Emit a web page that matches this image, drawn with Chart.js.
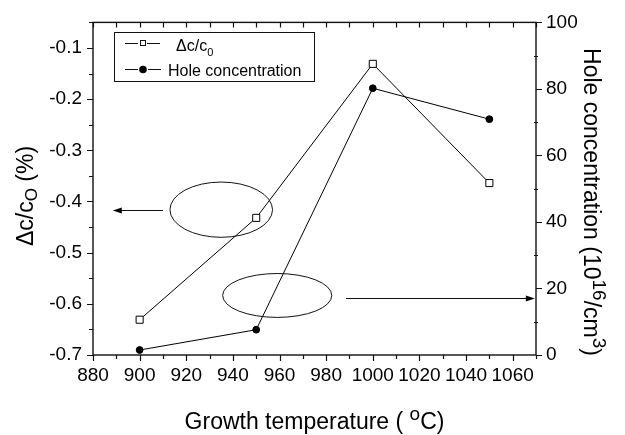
<!DOCTYPE html>
<html>
<head>
<meta charset="utf-8">
<script src="https://cdn.jsdelivr.net/npm/chart.js@4.4.0/dist/chart.umd.min.js"></script>
<style>
  html, body { margin: 0; background: #fff; }
  canvas { display: block; }
</style>
</head>
<body>
<canvas id="chart" width="625" height="435"></canvas>
<script>
// growth temperature (°C) and the two measured quantities
const temps = [900, 950, 1000, 1050];
const deltaC = [-0.631, -0.432, -0.131, -0.364];   // Δc/c0 (%)
const holeConc = [1.5, 7.6, 80.2, 70.9];           // 10^16 /cm^3

const xTicks = [880, 900, 920, 940, 960, 980, 1000, 1020, 1040, 1060];
const leftTicks = [-0.7, -0.6, -0.5, -0.4, -0.3, -0.2, -0.1];
const rightTicks = [0, 20, 40, 60, 80, 100];

const FONT = "'Liberation Sans', Arial, sans-serif";

// ellipses + arrows that point each curve to its axis (data units)
const marks = [
  { axis: "y", cx: 935, cy: -0.416, rx: 22, ry: 0.054, from: 910, to: 888.5, ay: -0.416 },
  { axis: "y1", cx: 959, cy: 17.9, rx: 23.4, ry: 6.6, from: 988.5, to: 1069.5, ay: 17 }
];

// minor ticks halfway between the labelled ones, inside the axis range
function minors(ticks, min, max) {
  const step = ticks[1] - ticks[0];
  const out = [];
  for (let v = ticks[0] - step / 2; v <= max + 1e-9; v += step) {
    if (v >= min - 1e-9) out.push(v);
  }
  return out;
}

// draws text made of pieces with their own size / vertical shift
function richText(ctx, parts, x, y) {
  let w = 0;
  parts.forEach(p => {
    ctx.font = p.s + "px " + FONT;
    p.w = ctx.measureText(p.t).width;
    w += p.w;
  });
  let cx = x - w / 2;
  ctx.textAlign = "left";
  ctx.textBaseline = "alphabetic";
  parts.forEach(p => {
    ctx.font = p.s + "px " + FONT;
    ctx.fillText(p.t, cx, y + (p.dy || 0));
    cx += p.w;
  });
}

const decor = {
  id: "decor",
  afterDraw(chart) {
    const { ctx, chartArea: a, scales } = chart;
    const sx = scales.x, sy = scales.y, sr = scales.y1;
    ctx.save();
    ctx.strokeStyle = "#111";
    ctx.fillStyle = "#000";

    // frame
    ctx.lineWidth = 1.4;
    ctx.strokeRect(a.left, a.top, a.right - a.left, a.bottom - a.top);

    // tick marks
    ctx.lineWidth = 1.2;
    ctx.beginPath();
    xTicks.forEach(v => {
      const px = Math.round(sx.getPixelForValue(v)) + 0.5;
      ctx.moveTo(px, a.bottom); ctx.lineTo(px, a.bottom + 6);
      ctx.moveTo(px, a.top); ctx.lineTo(px, a.top + 5);
    });
    minors(xTicks, 880, 1070).forEach(v => {
      const px = Math.round(sx.getPixelForValue(v)) + 0.5;
      ctx.moveTo(px, a.bottom); ctx.lineTo(px, a.bottom + 4);
      ctx.moveTo(px, a.top); ctx.lineTo(px, a.top + 5);
    });
    leftTicks.forEach(v => {
      const py = Math.round(sy.getPixelForValue(v)) + 0.5;
      ctx.moveTo(a.left - 6, py); ctx.lineTo(a.left, py);
    });
    minors(leftTicks, -0.7, -0.05).forEach(v => {
      const py = Math.round(sy.getPixelForValue(v)) + 0.5;
      ctx.moveTo(a.left - 4, py); ctx.lineTo(a.left, py);
    });
    rightTicks.forEach(v => {
      const py = Math.round(sr.getPixelForValue(v)) + 0.5;
      ctx.moveTo(a.right, py); ctx.lineTo(a.right + 6, py);
    });
    minors(rightTicks, 0, 100).forEach(v => {
      const py = Math.round(sr.getPixelForValue(v)) + 0.5;
      ctx.moveTo(a.right - 2, py); ctx.lineTo(a.right + 2, py);
    });
    ctx.stroke();

    // ellipses and arrows
    ctx.lineWidth = 1;
    marks.forEach(m => {
      const ys = scales[m.axis];
      const cx = sx.getPixelForValue(m.cx), cy = ys.getPixelForValue(m.cy);
      const rx = sx.getPixelForValue(m.cx + m.rx) - cx;
      const ry = cy - ys.getPixelForValue(m.cy + m.ry);
      ctx.beginPath();
      ctx.ellipse(cx, cy, rx, ry, 0, 0, Math.PI * 2);
      ctx.stroke();

      const x0 = sx.getPixelForValue(m.from), x1 = sx.getPixelForValue(m.to);
      const ay = Math.round(ys.getPixelForValue(m.ay)) + 0.5;
      const dir = Math.sign(x1 - x0);
      ctx.beginPath();
      ctx.moveTo(x0, ay); ctx.lineTo(x1 - dir * 6, ay);
      ctx.stroke();
      ctx.beginPath();
      ctx.moveTo(x1, ay);
      ctx.lineTo(x1 - dir * 9, ay - 3);
      ctx.lineTo(x1 - dir * 9, ay + 3);
      ctx.closePath();
      ctx.fill();
    });

    // legend box
    ctx.lineWidth = 1;
    ctx.strokeRect(114.5, 32.5, 200, 49);
    ctx.beginPath();
    ctx.moveTo(125, 43.5); ctx.lineTo(138, 43.5);
    ctx.moveTo(147, 43.5); ctx.lineTo(160, 43.5);
    ctx.moveTo(125, 69.5); ctx.lineTo(138, 69.5);
    ctx.moveTo(148, 69.5); ctx.lineTo(161, 69.5);
    ctx.stroke();
    ctx.fillStyle = "#fff";
    ctx.fillRect(140, 40, 6, 6);
    ctx.strokeRect(140.5, 40.5, 5, 5);
    ctx.fillStyle = "#000";
    ctx.beginPath();
    ctx.arc(143, 69.5, 3.8, 0, Math.PI * 2);
    ctx.fill();
    ctx.font = "16px " + FONT;
    ctx.textAlign = "left";
    ctx.textBaseline = "alphabetic";
    ctx.fillText("\u0394c/c", 176, 51);
    ctx.font = "11px " + FONT;
    ctx.fillText("0", 176 + (() => { ctx.font = "16px " + FONT; const w = ctx.measureText("\u0394c/c").width; ctx.font = "11px " + FONT; return w; })(), 56);
    ctx.font = "16px " + FONT;
    ctx.fillText("Hole concentration", 168, 76);

    // axis titles
    richText(ctx, [
      { t: "Growth temperature ( ", s: 23 },
      { t: "o", s: 19, dy: -9 },
      { t: "C)", s: 23 }
    ], (a.left + a.right) / 2, 429);

    ctx.save();
    ctx.translate(33, 196);
    ctx.rotate(-Math.PI / 2);
    richText(ctx, [
      { t: "\u0394c/c", s: 23 },
      { t: "O", s: 17, dy: 4 },
      { t: " (%)", s: 23 }
    ], 0, 0);
    ctx.restore();

    ctx.save();
    ctx.translate(584, 202);
    ctx.rotate(Math.PI / 2);
    richText(ctx, [
      { t: "Hole concentration (10", s: 23 },
      { t: "16", s: 19, dy: -9 },
      { t: "/cm", s: 23 },
      { t: "3", s: 19, dy: -9 },
      { t: ")", s: 23 }
    ], 0, 0);
    ctx.restore();

    ctx.restore();
  }
};

const tickFont = { family: FONT, size: 19 };

new Chart(document.getElementById("chart"), {
  type: "line",
  data: {
    datasets: [
      {
        label: "\u0394c/c0",
        data: temps.map((t, i) => ({ x: t, y: deltaC[i] })),
        yAxisID: "y",
        borderColor: "#000",
        borderWidth: 1,
        pointStyle: "rect",
        pointRadius: 5,
        pointBackgroundColor: "#fff",
        pointBorderColor: "#000",
        pointBorderWidth: 1,
        tension: 0
      },
      {
        label: "Hole concentration",
        data: temps.map((t, i) => ({ x: t, y: holeConc[i] })),
        yAxisID: "y1",
        borderColor: "#000",
        borderWidth: 1,
        pointStyle: "circle",
        pointRadius: 3.4,
        pointBackgroundColor: "#000",
        pointBorderColor: "#000",
        pointBorderWidth: 1,
        tension: 0
      }
    ]
  },
  options: {
    responsive: false,
    animation: false,
    layout: { padding: { top: 18, left: 0, right: 0, bottom: 0 } },
    plugins: { legend: { display: false }, tooltip: { enabled: false } },
    scales: {
      x: {
        type: "linear",
        min: 880,
        max: 1070,
        afterBuildTicks: s => { s.ticks = xTicks.map(v => ({ value: v })); },
        afterFit: s => { s.height = 80; },
        grid: { display: false, drawTicks: false },
        border: { display: false },
        ticks: { font: tickFont, color: "#000", padding: 9, maxRotation: 0, callback: v => String(v) }
      },
      y: {
        position: "left",
        min: -0.7,
        max: -0.05,
        afterBuildTicks: s => { s.ticks = leftTicks.map(v => ({ value: v })); },
        afterFit: s => { s.width = 93; },
        grid: { display: false, drawTicks: false },
        border: { display: false },
        ticks: { font: tickFont, color: "#000", padding: 11, callback: v => v.toFixed(1) }
      },
      y1: {
        position: "right",
        min: 0,
        max: 100,
        afterBuildTicks: s => { s.ticks = rightTicks.map(v => ({ value: v })); },
        afterFit: s => { s.width = 89; },
        grid: { display: false, drawTicks: false },
        border: { display: false },
        ticks: { font: tickFont, color: "#000", padding: 10, callback: v => String(v) }
      }
    }
  },
  plugins: [decor]
});
</script>
</body>
</html>
